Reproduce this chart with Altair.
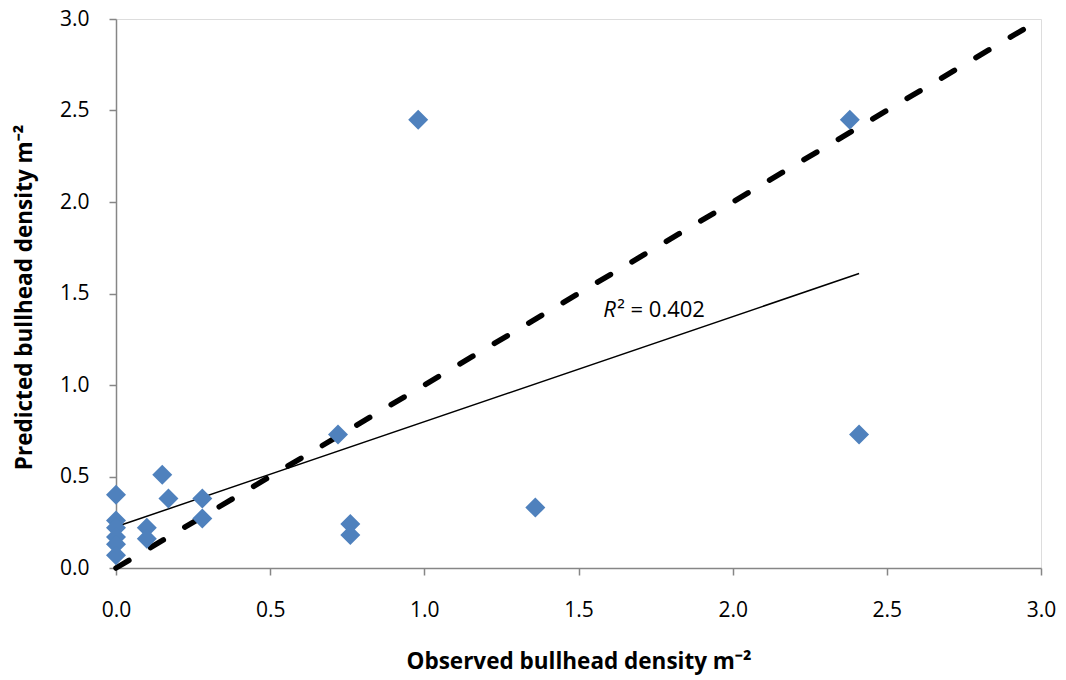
import altair as alt
import pandas as pd

observed = [0.0, 0.0, 0.0, 0.0, 0.0, 0.0, 0.10, 0.10, 0.15, 0.17, 0.28, 0.28,
            0.72, 0.76, 0.76, 0.98, 1.36, 2.38, 2.41]
predicted = [0.40, 0.26, 0.22, 0.17, 0.13, 0.07, 0.22, 0.16, 0.51, 0.38, 0.38, 0.27,
             0.73, 0.24, 0.18, 2.45, 0.33, 2.45, 0.73]

one_to_one_x = [0.0, 3.0]
one_to_one_y = [0.0, 3.0]

r2_label_x = [1.58]
r2_label_y = [1.41]
r2_value = ["\u00b2 = 0.402"]

pts = pd.DataFrame({"obs": observed, "pred": predicted})
ref = pd.DataFrame({"obs": one_to_one_x, "pred": one_to_one_y})
lab = pd.DataFrame({"obs": r2_label_x, "pred": r2_label_y, "txt": r2_value})

FONT = "Open Sans"
AX = "#868686"
TICKS = [0, 0.5, 1, 1.5, 2, 2.5, 3]

xscale = alt.Scale(domain=[0, 3], nice=False, zero=True)
yscale = alt.Scale(domain=[0, 3], nice=False, zero=True)

xaxis = alt.Axis(title="Observed bullhead density m\u207b\u00b2", values=TICKS,
                 format=".1f", grid=False, domainColor=AX, tickColor=AX, tickSize=7,
                 labelFlush=False, labelOverlap=False,
                 labelPadding=24, labelFontSize=21, labelFont=FONT, labelColor="black",
                 titleFont=FONT, titleFontSize=22.5, titleFontWeight="bold", titlePadding=30,
                 titleColor="black", domainWidth=1.5, tickWidth=1.5)
yaxis = alt.Axis(title="Predicted bullhead density m\u207b\u00b2", values=TICKS,
                 format=".1f", grid=False, domainColor=AX, tickColor=AX, tickSize=7,
                 labelFlush=False, labelOverlap=False,
                 labelPadding=20, labelFontSize=21, labelFont=FONT, labelColor="black",
                 titleFont=FONT, titleFontSize=22.5, titleFontWeight="bold",
                 titleX=-80, titleY=278,
                 titleColor="black", domainWidth=1.5, tickWidth=1.5)

base_pts = alt.Chart(pts)

points = base_pts.mark_point(shape="diamond", filled=True, size=400, color="#4F81BD", opacity=1).encode(
    x=alt.X("obs:Q", scale=xscale, axis=xaxis),
    y=alt.Y("pred:Q", scale=yscale, axis=yaxis),
)

trend = base_pts.transform_regression("obs", "pred").mark_line(color="black", strokeWidth=1.5).encode(
    x=alt.X("obs:Q", scale=xscale),
    y=alt.Y("pred:Q", scale=yscale),
)

diag = alt.Chart(ref).mark_line(color="black", strokeWidth=5.5, strokeDash=[15, 25], strokeCap="round").encode(
    x=alt.X("obs:Q", scale=xscale),
    y=alt.Y("pred:Q", scale=yscale),
)

r_text = alt.Chart(lab).mark_text(text="R", font=FONT, fontSize=22, fontStyle="italic",
                                  align="left", baseline="middle", color="black").encode(
    x=alt.X("obs:Q", scale=xscale),
    y=alt.Y("pred:Q", scale=yscale),
)
rest_text = alt.Chart(lab).mark_text(font=FONT, fontSize=22, align="left", baseline="middle",
                                     color="black", dx=14).encode(
    x=alt.X("obs:Q", scale=xscale),
    y=alt.Y("pred:Q", scale=yscale),
    text="txt:N",
)

chart = alt.layer(diag, trend, points, r_text, rest_text).properties(
    width=925, height=549,
    autosize=alt.AutoSizeParams(type="none"),
    padding={"left": 108, "top": 11, "right": 16, "bottom": 112},
).configure_view(stroke=None).configure(background="white")

chart.save("out.html", embed_options={"renderer": "svg", "actions": False})
